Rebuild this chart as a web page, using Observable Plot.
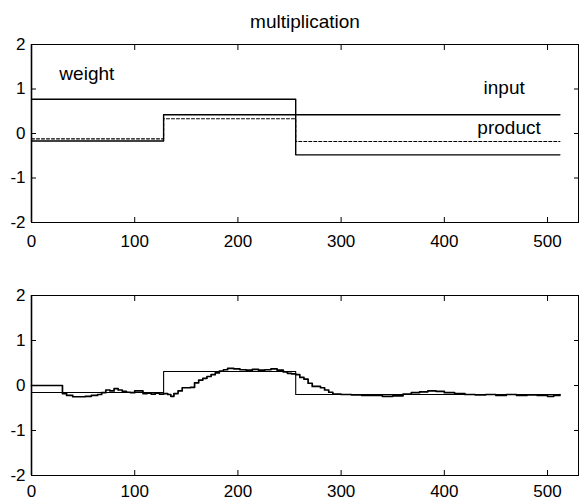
<!DOCTYPE html>
<html><head><meta charset="utf-8">
<script src="https://cdn.jsdelivr.net/npm/d3@7"></script>
<script src="https://cdn.jsdelivr.net/npm/@observablehq/plot@0.6"></script>
<style>
body{margin:0;background:#fff;font-family:"Liberation Sans",Arial,sans-serif;}
#wrap{width:579px;}
#title{height:34px;box-sizing:border-box;padding-top:11px;padding-left:31px;text-align:center;font-size:19px;line-height:22px;color:#000;}
svg{display:block;}
</style>
</head><body>
<div id="wrap"><div id="title">multiplication</div></div>
<script>
// ---- data ----
const xTicks = [0, 100, 200, 300, 400, 500];
const yTicks = [-2, -1, 0, 1, 2];

// top panel: piecewise-constant signals (step-after)
const weightX = [0, 256, 512];
const weightY = [0.77, -0.48, -0.48];
const inputX = [0, 128, 512];
const inputY = [-0.17, 0.42, 0.42];
const productX = [0, 128, 256, 512];
const productY = [-0.12, 0.33, -0.18, -0.18];

const labelText = ["weight", "input", "product"];
const labelX = [27, 438, 432];
const labelY = [1.35, 1.03, 0.13];

// bottom panel: target product and adaptive output
const targetX = [0, 128, 256, 512];
const targetY = [-0.155, 0.31, -0.2, -0.2];
const outX = [0, 30, 34, 40, 46, 52, 58, 64, 68, 72, 76, 80, 84, 88, 92, 96, 100, 104, 108, 112, 116, 120, 124, 128, 132, 135, 138, 142, 146, 150, 154, 158, 162, 166, 170, 174, 178, 182, 186, 190, 196, 202, 208, 214, 220, 226, 232, 238, 244, 248, 252, 256, 260, 264, 268, 272, 276, 280, 284, 288, 292, 300, 310, 320, 330, 340, 350, 360, 368, 376, 384, 392, 400, 410, 420, 430, 440, 450, 460, 470, 480, 490, 500, 506, 512];
const outY = [0, -0.18, -0.22, -0.25, -0.25, -0.24, -0.22, -0.2, -0.16, -0.1, -0.12, -0.07, -0.1, -0.13, -0.15, -0.16, -0.12, -0.12, -0.18, -0.17, -0.19, -0.17, -0.19, -0.18, -0.2, -0.24, -0.18, -0.12, -0.05, -0.05, -0.04, 0.06, 0.12, 0.16, 0.2, 0.24, 0.28, 0.32, 0.35, 0.38, 0.37, 0.35, 0.34, 0.36, 0.34, 0.35, 0.37, 0.34, 0.3, 0.27, 0.26, 0.24, 0.18, 0.14, 0.05, -0.02, -0.02, -0.05, -0.1, -0.15, -0.19, -0.2, -0.21, -0.22, -0.22, -0.24, -0.23, -0.19, -0.16, -0.14, -0.12, -0.13, -0.16, -0.18, -0.2, -0.21, -0.2, -0.22, -0.2, -0.22, -0.21, -0.22, -0.24, -0.22, -0.2];

const FONT = '"Liberation Sans", Arial, sans-serif';

function axes(xPad) {
  const blank = () => "";
  const fmt = d => String(d);
  return [
    Plot.axisX(xTicks, {anchor: "bottom", tickSize: 0, tickPadding: xPad, tickFormat: fmt, label: null}),
    Plot.axisY(yTicks, {anchor: "left", tickSize: 0, tickPadding: 6, tickFormat: fmt, label: null}),
    Plot.axisX(xTicks, {anchor: "bottom", tickSize: 5, dy: -5, tickFormat: blank, label: null}),
    Plot.axisX(xTicks, {anchor: "top", tickSize: 5, dy: 5, tickFormat: blank, label: null}),
    Plot.axisY(yTicks, {anchor: "left", tickSize: 5, dx: 5, tickFormat: blank, label: null}),
    Plot.axisY(yTicks, {anchor: "right", tickSize: 5, dx: -5, tickFormat: blank, label: null}),
    Plot.frame({stroke: "#000", strokeWidth: 1}),
    Plot.ruleX([0], {stroke: "#000", strokeWidth: 1.6})
  ];
}

const common = {
  width: 579,
  marginLeft: 31,
  marginRight: 1,
  x: {domain: [0, 530]},
  y: {domain: [-2, 2]},
  style: {fontSize: "17px", fontFamily: FONT, color: "#000", background: "#fff"}
};

const topChart = Plot.plot({
  ...common,
  height: 226,
  marginTop: 10,
  marginBottom: 38,
  marks: [
    ...axes(12),
    Plot.line(weightY, {x: weightX, y: weightY, curve: "step-after", stroke: "#000", strokeWidth: 1.4}),
    Plot.line(inputY, {x: inputX, y: inputY, curve: "step-after", stroke: "#000", strokeWidth: 1.4}),
    Plot.line(productY, {x: productX, y: productY, curve: "step-after", stroke: "#000", strokeWidth: 1.1, strokeDasharray: "3,2"}),
    Plot.text(labelText, {x: labelX, y: labelY, text: d => d, textAnchor: "start", fontSize: 19, fill: "#000"})
  ]
});

const bottomChart = Plot.plot({
  ...common,
  height: 242,
  marginTop: 35,
  marginBottom: 27,
  marks: [
    ...axes(9),
    Plot.line(targetY, {x: targetX, y: targetY, curve: "step-after", stroke: "#000", strokeWidth: 1.1}),
    Plot.line(outY, {x: outX, y: outY, curve: "step-after", stroke: "#000", strokeWidth: 1.7})
  ]
});

const wrap = document.getElementById("wrap");
wrap.appendChild(topChart);
wrap.appendChild(bottomChart);
</script>
</body></html>
